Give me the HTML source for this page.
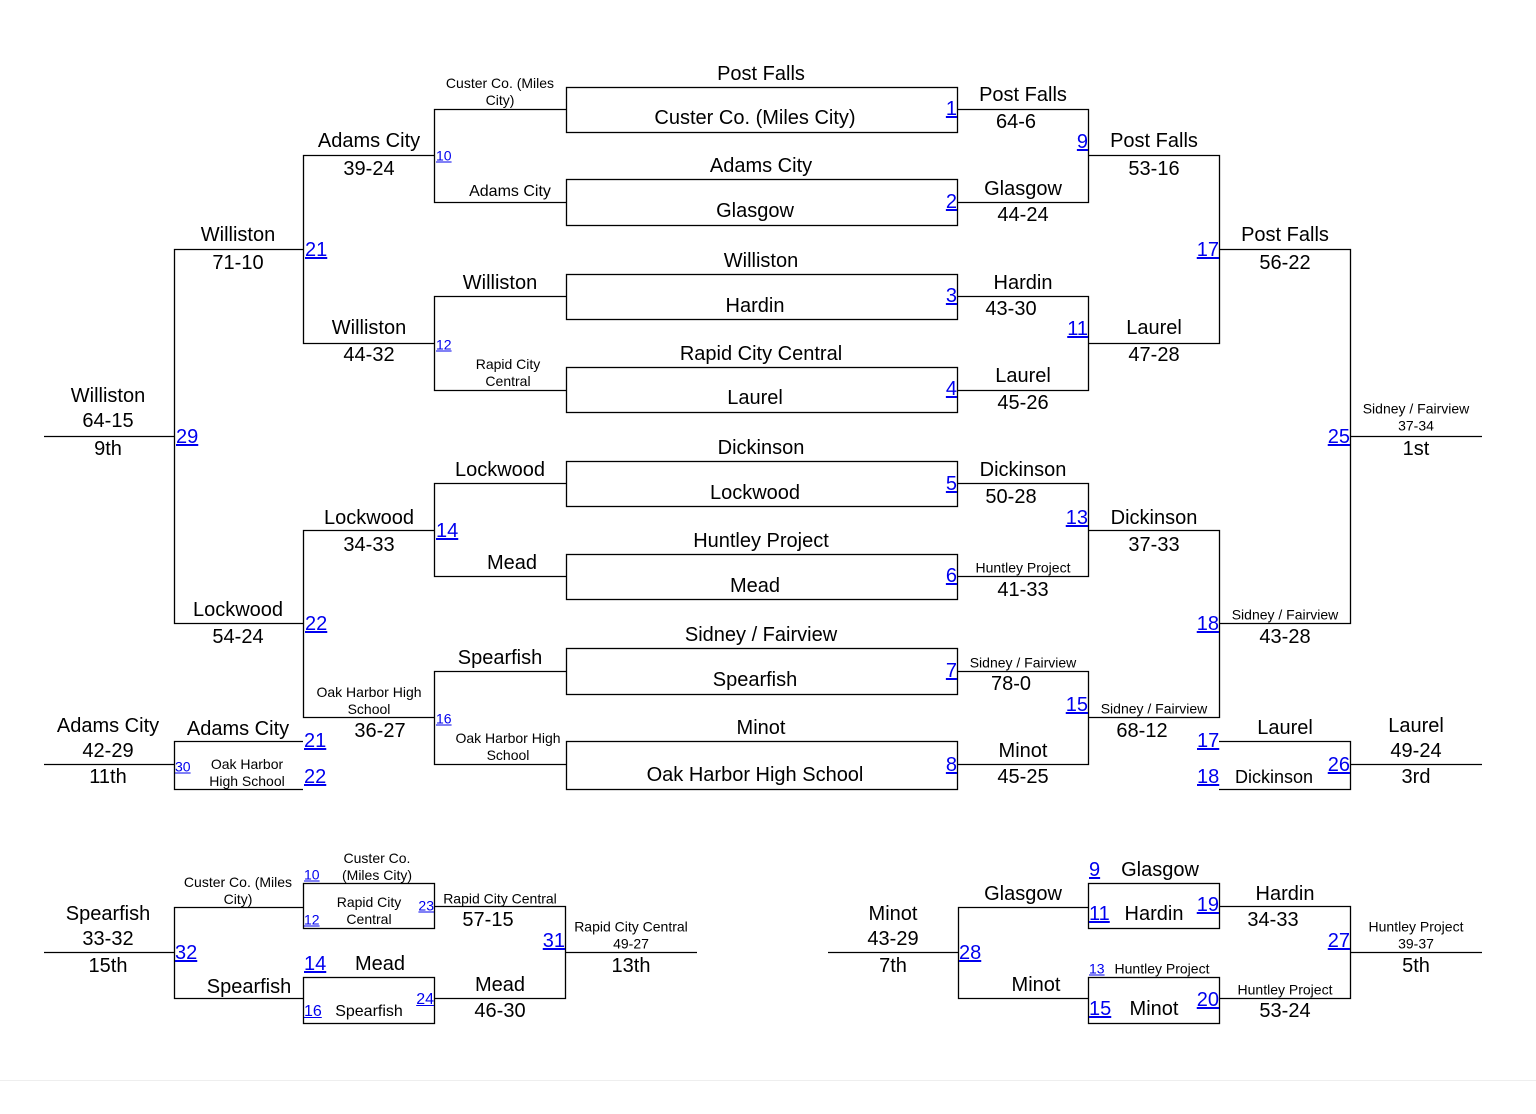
<!DOCTYPE html>
<html><head><meta charset="utf-8">
<style>
html,body{margin:0;padding:0;background:#fff;}
body{width:1536px;height:1114px;position:relative;overflow:hidden;font-family:"Liberation Sans",Arial,sans-serif;color:#000;}
svg{position:absolute;left:0;top:0;}
.t,.l,.r{margin-top:1px;}
.t{position:absolute;transform:translate(-50%,-50%);white-space:nowrap;text-align:center;}
.l{position:absolute;transform:translate(0,-50%);white-space:nowrap;}
.r{position:absolute;transform:translate(-100%,-50%);white-space:nowrap;}
.L{font-size:20px;line-height:22px;}
.M{font-size:16px;line-height:18px;}
.S{font-size:14px;line-height:17px;}
.a{color:#00e;text-decoration:underline;}
</style></head><body>
<svg width="1536" height="1114" viewBox="0 0 1536 1114">
<g stroke="#000" stroke-width="1.3" fill="none">
<rect x="566.5" y="87.5" width="391" height="45"/>
<rect x="566.5" y="179.5" width="391" height="46"/>
<rect x="566.5" y="274.5" width="391" height="45"/>
<rect x="566.5" y="367.5" width="391" height="45"/>
<rect x="566.5" y="461.5" width="391" height="45"/>
<rect x="566.5" y="554.5" width="391" height="45"/>
<rect x="566.5" y="648.5" width="391" height="46"/>
<rect x="566.5" y="741.5" width="391" height="48"/>
<path d="M566 109.5H434.5V202.5H566 M566 296.5H434.5V390.5H566 M566 483.5H434.5V576.5H566 M566 671.5H434.5V764.5H566"/>
<path d="M957 109.5H1088.5V202.5H957 M957 296.5H1088.5V390.5H957 M957 483.5H1088.5V576.5H957 M957 671.5H1088.5V764.5H957"/>
<path d="M434 155.5H303.5V343.5H434 M434 530.5H303.5V717.5H434"/>
<path d="M1088 155.5H1219.5V343.5H1088 M1088 530.5H1219.5V717.5H1088"/>
<path d="M303 249.5H174.5V623.5H303 M44 436.5H174"/>
<path d="M1219 249.5H1350.5V623.5H1219 M1350 436.5H1482"/>
<path d="M303 741.5H174.5V789.5H303 M44 764.5H174"/>
<path d="M1219 741.5H1350.5V789.5H1219 M1350 764.5H1482"/>
<path d="M44 952.5H174.5 M303 907.5H174.5V998.5H303"/>
<rect x="303.5" y="883.5" width="131" height="45"/>
<rect x="303.5" y="977.5" width="131" height="46"/>
<path d="M434 906.5H565.5V998.5H434 M565 952.5H697"/>
<path d="M828 952.5H958.5 M1088 907.5H958.5V998.5H1088"/>
<rect x="1088.5" y="883.5" width="131" height="45"/>
<rect x="1088.5" y="977.5" width="131" height="46"/>
<path d="M1219 906.5H1350.5V998.5H1219 M1350 952.5H1482"/>
</g>
<line x1="0" y1="1080.5" x2="1536" y2="1080.5" stroke="#eee" stroke-width="1"/>
</svg>

<div class="t L" style="left:761px;top:73px">Post Falls</div>
<div class="t L" style="left:755px;top:117px">Custer Co. (Miles City)</div>
<div class="t L" style="left:761px;top:165px">Adams City</div>
<div class="t L" style="left:755px;top:210px">Glasgow</div>
<div class="t L" style="left:761px;top:260px">Williston</div>
<div class="t L" style="left:755px;top:305px">Hardin</div>
<div class="t L" style="left:761px;top:353px">Rapid City Central</div>
<div class="t L" style="left:755px;top:397px">Laurel</div>
<div class="t L" style="left:761px;top:447px">Dickinson</div>
<div class="t L" style="left:755px;top:492px">Lockwood</div>
<div class="t L" style="left:761px;top:540px">Huntley Project</div>
<div class="t L" style="left:755px;top:585px">Mead</div>
<div class="t L" style="left:761px;top:634px">Sidney / Fairview</div>
<div class="t L" style="left:755px;top:679px">Spearfish</div>
<div class="t L" style="left:761px;top:727px">Minot</div>
<div class="t L" style="left:755px;top:774px">Oak Harbor High School</div>
<div class="r L a" style="left:957px;top:108px">1</div>
<div class="r L a" style="left:957px;top:201px">2</div>
<div class="r L a" style="left:957px;top:295px">3</div>
<div class="r L a" style="left:957px;top:388px">4</div>
<div class="r L a" style="left:957px;top:483px">5</div>
<div class="r L a" style="left:957px;top:575px">6</div>
<div class="r L a" style="left:957px;top:670px">7</div>
<div class="r L a" style="left:957px;top:764px">8</div>

<div class="t S" style="left:500px;top:91px">Custer Co. (Miles<br>City)</div>
<div class="l S a" style="left:436px;top:155px">10</div>
<div class="t M" style="left:510px;top:191px">Adams City</div>
<div class="t L" style="left:500px;top:282px">Williston</div>
<div class="l S a" style="left:436px;top:344px">12</div>
<div class="t S" style="left:508px;top:372px">Rapid City<br>Central</div>
<div class="t L" style="left:500px;top:469px">Lockwood</div>
<div class="l L a" style="left:436px;top:530px">14</div>
<div class="t L" style="left:512px;top:562px">Mead</div>
<div class="t L" style="left:500px;top:657px">Spearfish</div>
<div class="l S a" style="left:436px;top:718px">16</div>
<div class="t S" style="left:508px;top:746px">Oak Harbor High<br>School</div>

<div class="t L" style="left:369px;top:140px">Adams City</div>
<div class="t L" style="left:369px;top:168px">39-24</div>
<div class="l L a" style="left:305px;top:249px">21</div>
<div class="t L" style="left:369px;top:327px">Williston</div>
<div class="t L" style="left:369px;top:354px">44-32</div>
<div class="t L" style="left:369px;top:517px">Lockwood</div>
<div class="t L" style="left:369px;top:544px">34-33</div>
<div class="l L a" style="left:305px;top:623px">22</div>
<div class="t S" style="left:369px;top:700px">Oak Harbor High<br>School</div>
<div class="t L" style="left:380px;top:730px">36-27</div>

<div class="t L" style="left:238px;top:234px">Williston</div>
<div class="t L" style="left:238px;top:262px">71-10</div>
<div class="l L a" style="left:176px;top:436px">29</div>
<div class="t L" style="left:238px;top:609px">Lockwood</div>
<div class="t L" style="left:238px;top:636px">54-24</div>
<div class="t L" style="left:108px;top:395px">Williston</div>
<div class="t L" style="left:108px;top:420px">64-15</div>
<div class="t L" style="left:108px;top:448px">9th</div>

<div class="t L" style="left:1023px;top:94px">Post Falls</div>
<div class="t L" style="left:1016px;top:121px">64-6</div>
<div class="r L a" style="left:1088px;top:141px">9</div>
<div class="t L" style="left:1023px;top:188px">Glasgow</div>
<div class="t L" style="left:1023px;top:214px">44-24</div>
<div class="t L" style="left:1023px;top:282px">Hardin</div>
<div class="t L" style="left:1011px;top:308px">43-30</div>
<div class="r L a" style="left:1088px;top:328px">11</div>
<div class="t L" style="left:1023px;top:375px">Laurel</div>
<div class="t L" style="left:1023px;top:402px">45-26</div>
<div class="t L" style="left:1023px;top:469px">Dickinson</div>
<div class="t L" style="left:1011px;top:496px">50-28</div>
<div class="r L a" style="left:1088px;top:517px">13</div>
<div class="t S" style="left:1023px;top:567px">Huntley Project</div>
<div class="t L" style="left:1023px;top:589px">41-33</div>
<div class="t S" style="left:1023px;top:662px">Sidney / Fairview</div>
<div class="t L" style="left:1011px;top:683px">78-0</div>
<div class="r L a" style="left:1088px;top:704px">15</div>
<div class="t L" style="left:1023px;top:750px">Minot</div>
<div class="t L" style="left:1023px;top:776px">45-25</div>

<div class="t L" style="left:1154px;top:140px">Post Falls</div>
<div class="t L" style="left:1154px;top:168px">53-16</div>
<div class="r L a" style="left:1219px;top:249px">17</div>
<div class="t L" style="left:1154px;top:327px">Laurel</div>
<div class="t L" style="left:1154px;top:354px">47-28</div>
<div class="t L" style="left:1154px;top:517px">Dickinson</div>
<div class="t L" style="left:1154px;top:544px">37-33</div>
<div class="r L a" style="left:1219px;top:623px">18</div>
<div class="t S" style="left:1154px;top:708px">Sidney / Fairview</div>
<div class="t L" style="left:1142px;top:730px">68-12</div>

<div class="t L" style="left:1285px;top:234px">Post Falls</div>
<div class="t L" style="left:1285px;top:262px">56-22</div>
<div class="r L a" style="left:1350px;top:436px">25</div>
<div class="t S" style="left:1285px;top:614px">Sidney / Fairview</div>
<div class="t L" style="left:1285px;top:636px">43-28</div>
<div class="t S" style="left:1416px;top:408px">Sidney / Fairview</div>
<div class="t S" style="left:1416px;top:425px">37-34</div>
<div class="t L" style="left:1416px;top:448px">1st</div>

<div class="t L" style="left:108px;top:725px">Adams City</div>
<div class="t L" style="left:108px;top:750px">42-29</div>
<div class="t L" style="left:108px;top:776px">11th</div>
<div class="t L" style="left:238px;top:728px">Adams City</div>
<div class="l S a" style="left:175px;top:766px">30</div>
<div class="t S" style="left:247px;top:772px">Oak Harbor<br>High School</div>
<div class="l L a" style="left:304px;top:740px">21</div>
<div class="l L a" style="left:304px;top:776px">22</div>

<div class="l L a" style="left:1197px;top:740px">17</div>
<div class="t L" style="left:1285px;top:727px">Laurel</div>
<div class="l L a" style="left:1197px;top:776px">18</div>
<div class="t" style="left:1274px;top:776px;font-size:18px;line-height:20px">Dickinson</div>
<div class="r L a" style="left:1350px;top:764px">26</div>
<div class="t L" style="left:1416px;top:725px">Laurel</div>
<div class="t L" style="left:1416px;top:750px">49-24</div>
<div class="t L" style="left:1416px;top:776px">3rd</div>

<div class="t L" style="left:108px;top:913px">Spearfish</div>
<div class="t L" style="left:108px;top:938px">33-32</div>
<div class="t L" style="left:108px;top:965px">15th</div>
<div class="t S" style="left:238px;top:890px">Custer Co. (Miles<br>City)</div>
<div class="l L a" style="left:175px;top:952px">32</div>
<div class="t L" style="left:249px;top:986px">Spearfish</div>
<div class="l S a" style="left:304px;top:874px">10</div>
<div class="t S" style="left:377px;top:866px">Custer Co.<br>(Miles City)</div>
<div class="l S a" style="left:304px;top:919px">12</div>
<div class="t S" style="left:369px;top:910px">Rapid City<br>Central</div>
<div class="r S a" style="left:434px;top:905px">23</div>
<div class="l L a" style="left:304px;top:963px">14</div>
<div class="t L" style="left:380px;top:963px">Mead</div>
<div class="l M a" style="left:304px;top:1011px">16</div>
<div class="t M" style="left:369px;top:1011px">Spearfish</div>
<div class="r M a" style="left:434px;top:999px">24</div>
<div class="t S" style="left:500px;top:898px">Rapid City Central</div>
<div class="t L" style="left:488px;top:919px">57-15</div>
<div class="t L" style="left:500px;top:984px">Mead</div>
<div class="t L" style="left:500px;top:1010px">46-30</div>
<div class="r L a" style="left:565px;top:940px">31</div>
<div class="t S" style="left:631px;top:926px">Rapid City Central</div>
<div class="t S" style="left:631px;top:943px">49-27</div>
<div class="t L" style="left:631px;top:965px">13th</div>

<div class="t L" style="left:893px;top:913px">Minot</div>
<div class="t L" style="left:893px;top:938px">43-29</div>
<div class="t L" style="left:893px;top:965px">7th</div>
<div class="t L" style="left:1023px;top:893px">Glasgow</div>
<div class="l L a" style="left:959px;top:952px">28</div>
<div class="t L" style="left:1036px;top:984px">Minot</div>
<div class="l L a" style="left:1089px;top:869px">9</div>
<div class="t L" style="left:1160px;top:869px">Glasgow</div>
<div class="l L a" style="left:1089px;top:913px">11</div>
<div class="t L" style="left:1154px;top:913px">Hardin</div>
<div class="r L a" style="left:1219px;top:904px">19</div>
<div class="l S a" style="left:1089px;top:968px">13</div>
<div class="t S" style="left:1162px;top:968px">Huntley Project</div>
<div class="l L a" style="left:1089px;top:1008px">15</div>
<div class="t L" style="left:1154px;top:1008px">Minot</div>
<div class="r L a" style="left:1219px;top:999px">20</div>
<div class="t L" style="left:1285px;top:893px">Hardin</div>
<div class="t L" style="left:1273px;top:919px">34-33</div>
<div class="r L a" style="left:1350px;top:940px">27</div>
<div class="t S" style="left:1285px;top:989px">Huntley Project</div>
<div class="t L" style="left:1285px;top:1010px">53-24</div>
<div class="t S" style="left:1416px;top:926px">Huntley Project</div>
<div class="t S" style="left:1416px;top:943px">39-37</div>
<div class="t L" style="left:1416px;top:965px">5th</div>
</body></html>
